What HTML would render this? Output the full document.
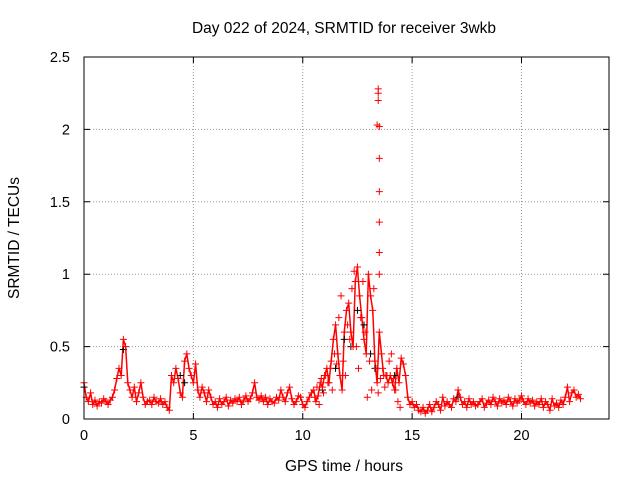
<!DOCTYPE html>
<html>
<head>
<meta charset="utf-8">
<style>
  html, body { margin: 0; padding: 0; background: #fff; }
  svg { display: block; font-family: "Liberation Sans", "DejaVu Sans", sans-serif; }
</style>
</head>
<body>
<svg id="chart" width="640" height="480" viewBox="0 0 640 480">
  <rect x="0" y="0" width="640" height="480" fill="#fff"/>
  <text x="344" y="33" text-anchor="middle" font-size="15.5" fill="#000">Day 022 of 2024, SRMTID for receiver 3wkb</text>
  <text x="344" y="471" text-anchor="middle" font-size="15.5" fill="#000">GPS time / hours</text>
  <text x="19" y="238" text-anchor="middle" font-size="15.5" fill="#000" transform="rotate(-90 19 238)">SRMTID / TECUs</text>
  <g id="grid"></g>
  <g id="ticks"></g>
  <g id="marks"></g>
  <rect x="84" y="57" width="525" height="362" fill="none" stroke="#000" stroke-width="1"/>
</svg>
<script>
const xTicks = [0, 5, 10, 15, 20];
const yTicks = [0, 0.5, 1, 1.5, 2, 2.5];
const yTickLabels = ["0", "0.5", "1", "1.5", "2", "2.5"];
const startHour = 0;
const stepHour = 0.1;
const srmtidValues = [
0.25,0.15,0.12,0.18,0.10,0.13,0.09,0.12,0.11,0.14,
0.12,0.10,0.13,0.15,0.20,0.28,0.35,0.30,0.55,0.50,
0.25,0.20,0.15,0.22,0.12,0.18,0.25,0.15,0.10,0.12,
0.13,0.10,0.15,0.12,0.11,0.14,0.10,0.12,0.08,0.06,
0.30,0.25,0.35,0.28,0.18,0.15,0.40,0.45,0.35,0.30,
0.25,0.38,0.20,0.15,0.22,0.18,0.12,0.20,0.15,0.10,
0.12,0.08,0.14,0.10,0.12,0.15,0.09,0.13,0.11,0.14,
0.12,0.15,0.10,0.13,0.16,0.12,0.14,0.18,0.25,0.15,
0.13,0.16,0.12,0.15,0.10,0.14,0.12,0.11,0.15,0.13,
0.20,0.15,0.12,0.18,0.22,0.14,0.10,0.12,0.16,0.15,
0.10,0.08,0.12,0.15,0.18,0.20,0.12,0.16,0.25,0.22,
0.30,0.35,0.25,0.40,0.55,0.65,0.45,0.30,0.20,0.60,
0.75,0.80,0.60,0.50,0.95,1.05,0.85,0.70,0.55,0.45,
1.00,0.85,0.75,0.40,0.25,0.60,0.45,0.30,0.30,0.25,
0.30,0.25,0.20,0.35,0.25,0.42,0.38,0.30,0.15,0.10,
0.12,0.08,0.10,0.06,0.05,0.08,0.04,0.06,0.10,0.05,
0.08,0.12,0.10,0.06,0.15,0.09,0.12,0.10,0.08,0.14,
0.12,0.20,0.15,0.10,0.12,0.08,0.14,0.10,0.12,0.09,
0.10,0.12,0.14,0.08,0.11,0.13,0.10,0.15,0.12,0.09,
0.14,0.11,0.13,0.10,0.15,0.12,0.09,0.14,0.11,0.13,
0.16,0.12,0.10,0.14,0.11,0.13,0.09,0.12,0.10,0.14,
0.08,0.12,0.10,0.06,0.14,0.09,0.11,0.08,0.13,0.10,
0.15,0.22,0.12,0.18,0.20,0.15,0.17,0.14
];
// secondary scatter (lower/upper spread) for active interval, 0.1 h steps from 10.55 h
const spreadStart = 10.55;
const spreadValues = [
0.15,0.22,0.10,0.28,0.18,0.30,0.25,0.35,0.20,0.45,
0.38,0.70,0.85,0.40,0.30,0.65,0.55,0.90,1.02,0.50,
0.35,0.70,0.95,0.60,0.15,0.40,0.20,0.90,0.35,0.18,
0.28,0.35,0.22,0.30,0.40,0.45,0.28,0.20,0.12,0.08
];
const spikeHours = [13.45,13.45,13.45,13.40,13.50,13.50,13.50,13.50,13.50,13.50];
const spikeValues = [2.28,2.25,2.20,2.03,2.02,1.80,1.57,1.36,1.15,1.00];
const blackHours = [0.0,1.8,4.4,4.6,10.9,11.5,11.9,12.2,12.5,12.8,13.1,13.3,14.2,17.1];
const blackValues = [0.22,0.48,0.30,0.25,0.20,0.35,0.55,0.50,0.75,0.65,0.45,0.35,0.30,0.15];

const NS = "http://www.w3.org/2000/svg";
const X0 = 84, X1 = 609, Y0 = 419, Y1 = 57;
function xScale(h) { return X0 + (h / 24) * (X1 - X0); }
function yScale(v) { return Y0 - (v / 2.5) * (Y0 - Y1); }

const grid = document.getElementById('grid');
const ticks = document.getElementById('ticks');
const marks = document.getElementById('marks');

xTicks.forEach(function (t) {
  const x = xScale(t);
  if (t > 0) {
    const g = document.createElementNS(NS, 'line');
    g.setAttribute('x1', x); g.setAttribute('x2', x);
    g.setAttribute('y1', Y1); g.setAttribute('y2', Y0);
    g.setAttribute('stroke', '#999'); g.setAttribute('stroke-dasharray', '1,2');
    
    
    grid.appendChild(g);
  }
  const tk = document.createElementNS(NS, 'path');
  tk.setAttribute('d', 'M' + x + ' ' + Y0 + 'v-6M' + x + ' ' + Y1 + 'v6');
  tk.setAttribute('stroke', '#000');
  
  
  ticks.appendChild(tk);
  const lb = document.createElementNS(NS, 'text');
  lb.setAttribute('x', x); lb.setAttribute('y', Y0 + 21);
  lb.setAttribute('text-anchor', 'middle'); lb.setAttribute('font-size', '14.5');
  lb.textContent = String(t);
  
  
  ticks.appendChild(lb);
});

yTicks.forEach(function (t, i) {
  const y = yScale(t);
  if (t > 0 && t < 2.5) {
    const g = document.createElementNS(NS, 'line');
    g.setAttribute('x1', X0); g.setAttribute('x2', X1);
    g.setAttribute('y1', y); g.setAttribute('y2', y);
    g.setAttribute('stroke', '#999'); g.setAttribute('stroke-dasharray', '1,2');
    
    
    grid.appendChild(g);
  }
  const tk = document.createElementNS(NS, 'path');
  tk.setAttribute('d', 'M' + X0 + ' ' + y + 'h6M' + X1 + ' ' + y + 'h-6');
  tk.setAttribute('stroke', '#000');
  
  
  ticks.appendChild(tk);
  const lb = document.createElementNS(NS, 'text');
  lb.setAttribute('x', X0 - 14); lb.setAttribute('y', y + 5);
  lb.setAttribute('text-anchor', 'end'); lb.setAttribute('font-size', '14.5');
  lb.textContent = yTickLabels[i];
  
  
  ticks.appendChild(lb);
});

function cross(h, v, color, name) {
  const x = xScale(h), y = yScale(v);
  const p = document.createElementNS(NS, 'path');
  p.setAttribute('d', 'M' + (x - 3.5) + ' ' + y + 'h7M' + x + ' ' + (y - 3.5) + 'v7');
  p.setAttribute('stroke', color); p.setAttribute('stroke-width', '1');
  
  
  marks.appendChild(p);
}

let d = '';
srmtidValues.forEach(function (v, i) {
  const h = startHour + i * stepHour;
  d += (i ? 'L' : 'M') + xScale(h).toFixed(1) + ' ' + yScale(v).toFixed(1);
});
const band = document.createElementNS(NS, 'path');
band.setAttribute('d', d);
band.setAttribute('fill', 'none'); band.setAttribute('stroke', '#f00');
band.setAttribute('stroke-width', '1.5'); band.setAttribute('stroke-linejoin', 'round');


marks.appendChild(band);

blackValues.forEach(function (v, i) { cross(blackHours[i], v, '#000', 'black-point'); });
srmtidValues.forEach(function (v, i) { cross(startHour + i * stepHour, v, '#f00', 'srmtid-point'); });
spreadValues.forEach(function (v, i) { cross(spreadStart + i * stepHour, v, '#f00', 'spread-point'); });
spikeValues.forEach(function (v, i) { cross(spikeHours[i], v, '#f00', 'spike-point'); });
</script>
</body>
</html>
